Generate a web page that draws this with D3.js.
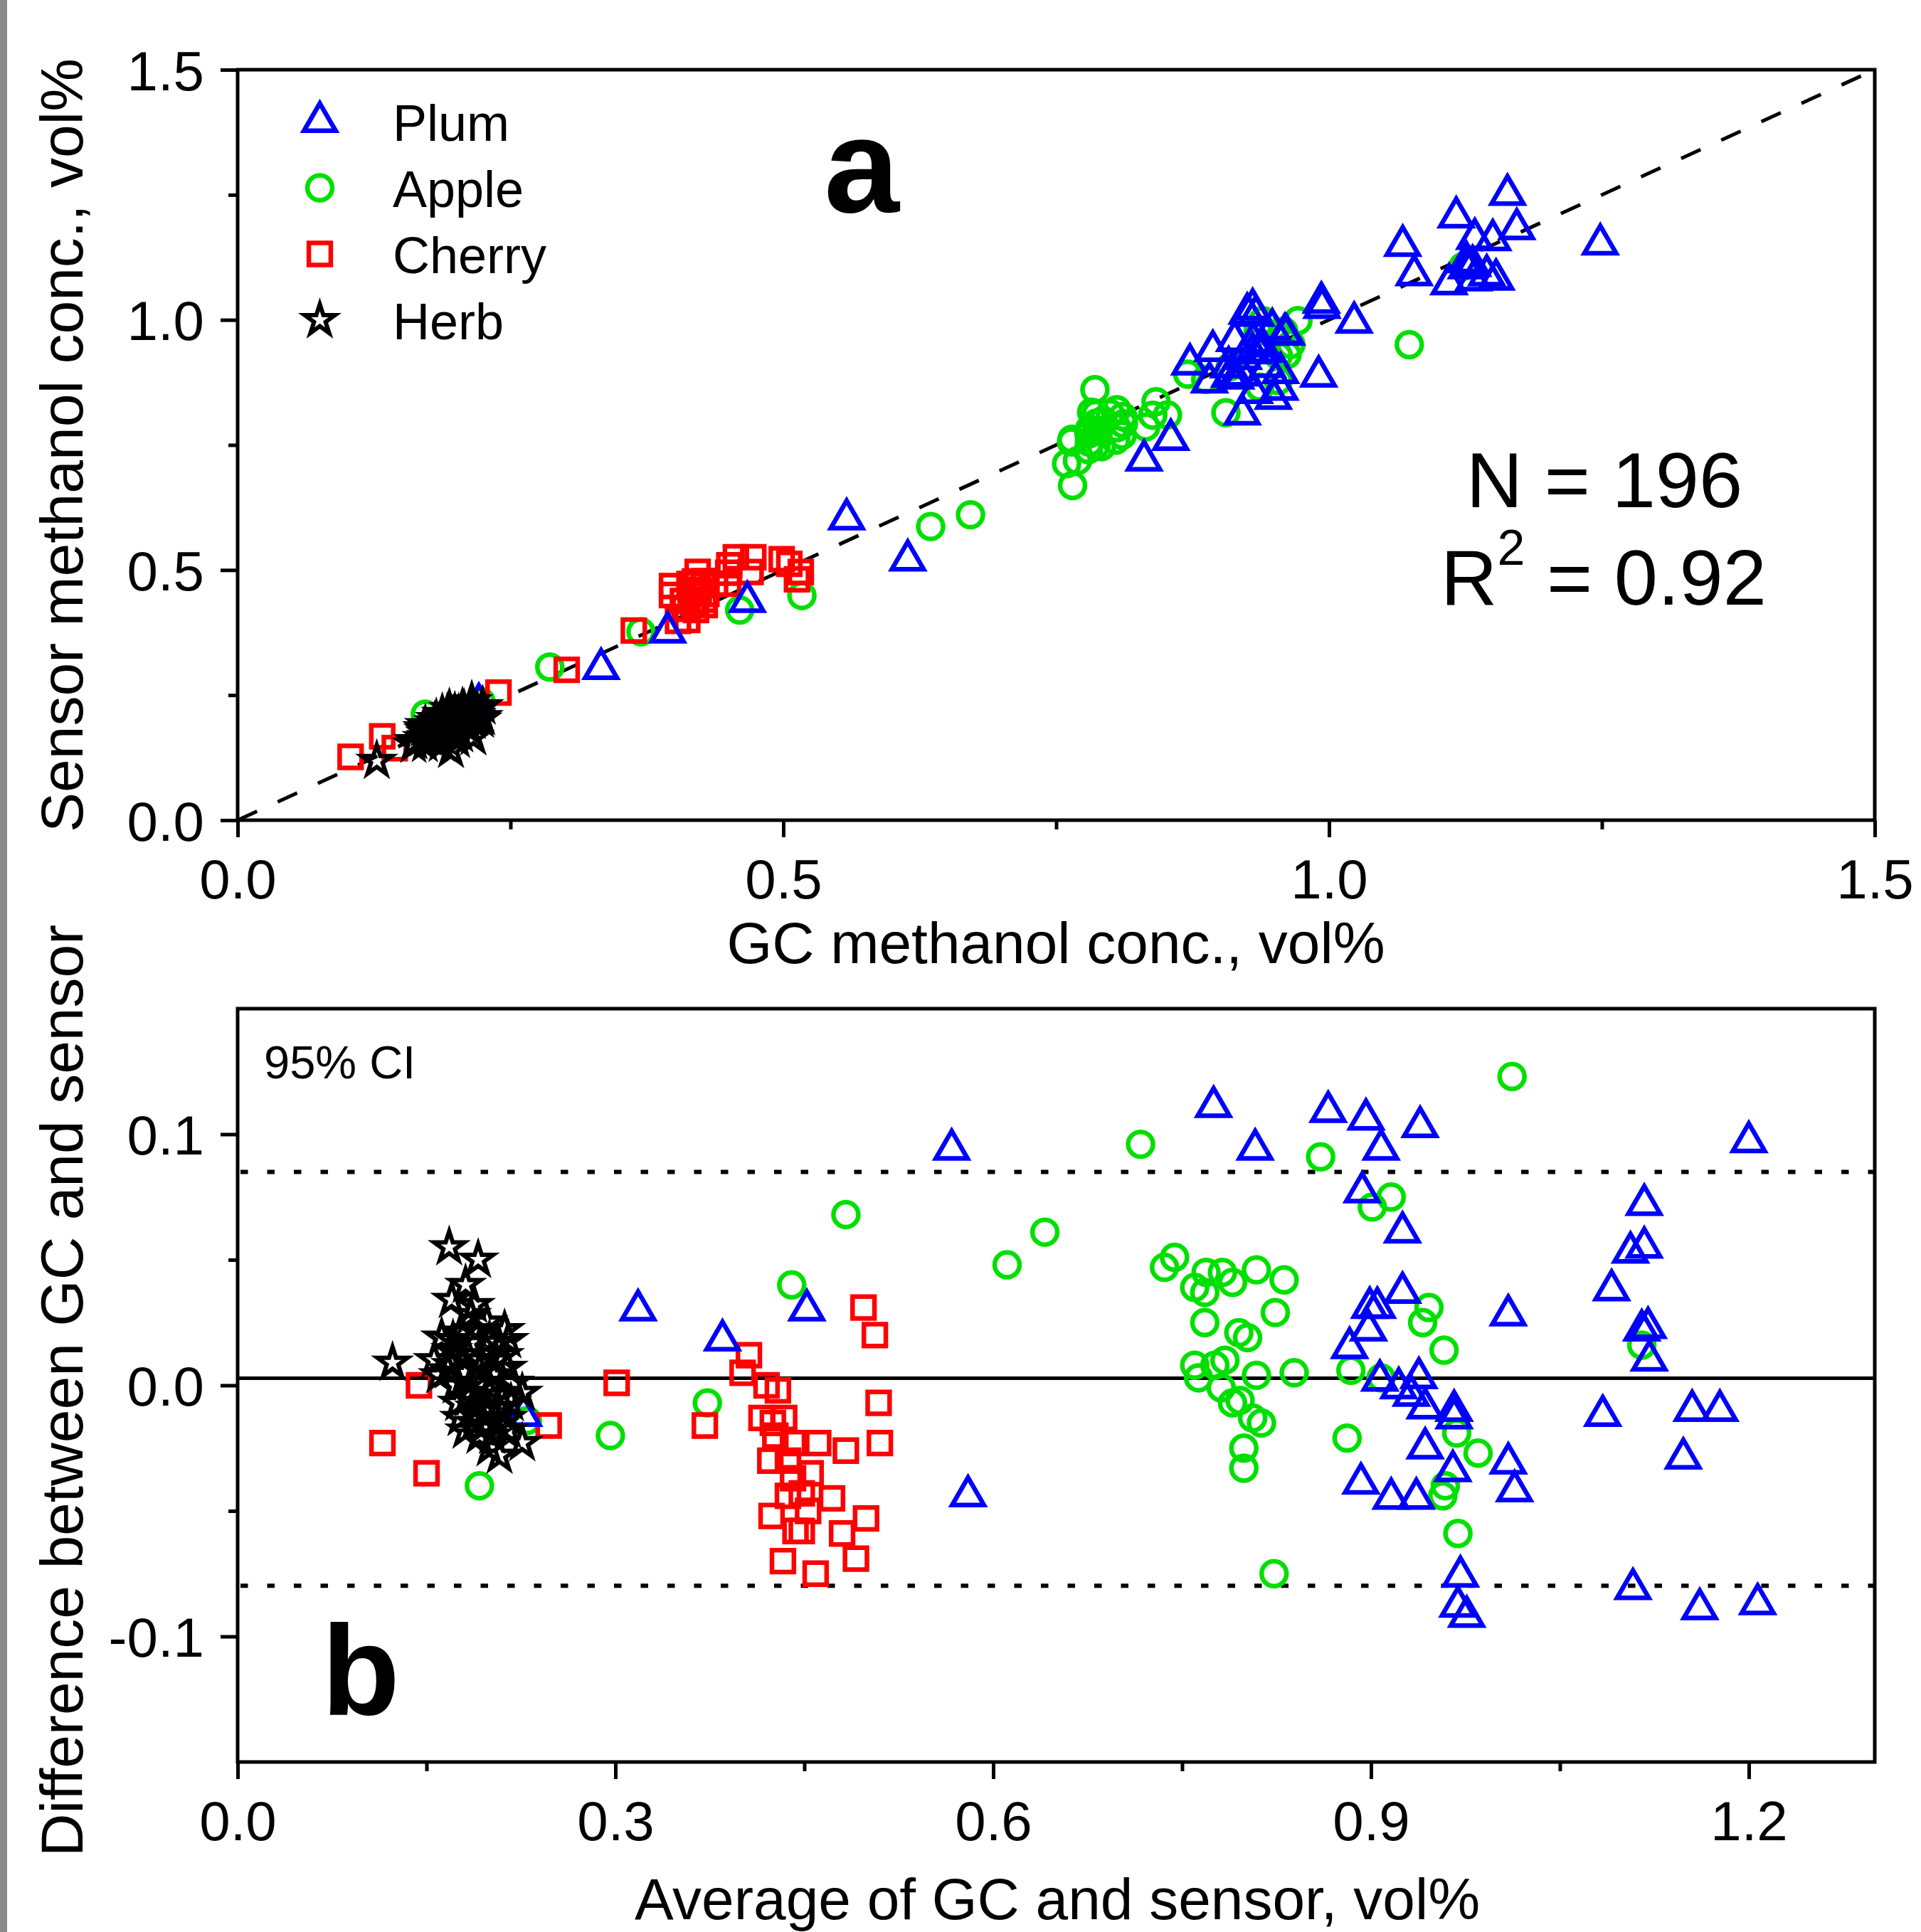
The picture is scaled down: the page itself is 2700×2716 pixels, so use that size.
<!DOCTYPE html>
<html>
<head>
<meta charset="utf-8">
<script src="https://cdn.jsdelivr.net/npm/d3@7"></script>
<style>
  body { margin: 0; background: #fff; }
  text { font-family: "Liberation Sans", Arial, sans-serif; fill: #000; }
</style>
</head>
<body>
<svg width="2700" height="2716"></svg>
<script>
// Bland-Altman values: average of GC and sensor, and GC - sensor
var plumAvg = [0.227, 0.318, 0.385, 0.452, 0.567, 0.580, 0.775, 0.808, 0.866, 0.896, 0.939, 0.908, 0.893, 0.925, 0.925,
    0.899, 0.905, 0.898, 0.883, 1.009, 0.907, 0.922, 0.938, 0.932, 0.943, 0.966, 0.966, 0.943, 0.965, 1.009, 1.014,
    0.916, 0.936, 0.892, 0.971, 0.969, 0.976, 1.200, 1.117, 1.106, 1.117, 1.091, 1.115, 1.120, 1.121, 1.084, 1.155,
    1.177, 1.148, 1.108, 1.161, 1.207];
var plumDiff = [-0.012, 0.030, 0.018, 0.030, 0.094, -0.044, 0.111, 0.094, 0.109, 0.106, 0.103, 0.094, 0.077, 0.061, 0.037,
    0.031, 0.031, 0.022, 0.015, 0.028, 0.002, -0.001, 0.003, -0.004, -0.009, -0.010, -0.013, -0.025, -0.034, -0.031, -0.042,
    -0.045, -0.045, -0.039, -0.076, -0.088, -0.092, 0.097, 0.072, 0.053, 0.055, 0.038, 0.022, 0.023, 0.010, -0.012, -0.010,
    -0.010, -0.029, -0.081, -0.089, -0.087];

var appleAvg = [0.192, 0.230, 0.296, 0.373, 0.440, 0.483, 0.611, 0.641, 0.717, 0.736, 0.744, 0.760, 0.769, 0.782, 0.768,
    0.790, 0.809, 0.831, 0.824, 0.768, 0.795, 0.802, 0.760, 0.776, 0.784, 0.763, 0.809, 0.839, 0.781, 0.790, 0.796,
    0.806, 0.813, 0.799, 0.799, 0.860, 0.823, 1.012, 0.916, 0.901, 0.946, 0.941, 0.958, 0.884, 0.908, 0.881, 0.968,
    0.985, 0.959, 0.957, 0.969, 1.115];
var appleDiff = [-0.040, -0.014, -0.020, -0.007, 0.040, 0.068, 0.048, 0.061, 0.096, 0.047, 0.051, 0.039, 0.045, 0.045, 0.037,
    0.041, 0.046, 0.042, 0.029, 0.025, 0.021, 0.019, 0.008, 0.008, 0.010, 0.003, 0.004, 0.005, -0.001, -0.007, -0.006,
    -0.013, -0.015, -0.025, -0.033, 0.091, -0.075, 0.123, 0.075, 0.071, 0.031, 0.025, 0.014, 0.006, 0.003, -0.021, -0.019,
    -0.027, -0.040, -0.044, -0.059, 0.016];

var cherryAvg = [0.144, 0.115, 0.150, 0.247, 0.301, 0.371, 0.406, 0.401, 0.420, 0.429, 0.416, 0.425, 0.434, 0.441, 0.461,
    0.483, 0.423, 0.437, 0.441, 0.437, 0.448, 0.472, 0.453, 0.424, 0.443, 0.448, 0.480, 0.499, 0.491, 0.433, 0.459,
    0.497, 0.506, 0.509, 0.510, 0.427, 0.455];
var cherryDiff = [0.000, -0.023, -0.035, -0.016, 0.001, -0.016, 0.012, 0.005, 0.000, -0.002, -0.013, -0.015, -0.013, -0.023, -0.023,
    -0.026, -0.030, -0.030, -0.037, -0.044, -0.043, -0.045, -0.050, -0.052, -0.058, -0.058, -0.059, -0.053, -0.069, -0.070, -0.075,
    0.031, 0.020, -0.007, -0.023, -0.020, -0.035];

var herbAvg = [0.168, 0.191, 0.181, 0.170, 0.185, 0.198, 0.212, 0.171, 0.185, 0.207, 0.156, 0.193, 0.214, 0.167, 0.181,
    0.123, 0.173, 0.192, 0.209, 0.226, 0.189, 0.177, 0.214, 0.181, 0.226, 0.208, 0.215, 0.162, 0.200, 0.179, 0.203,
    0.160, 0.200, 0.183, 0.207, 0.196, 0.217, 0.170, 0.188, 0.205, 0.175, 0.202, 0.211, 0.192, 0.185, 0.198, 0.188,
    0.207, 0.219, 0.170, 0.200, 0.192, 0.177, 0.215, 0.188];
var herbDiff = [0.055, 0.050, 0.040, 0.034, 0.028, 0.025, 0.022, 0.018, 0.017, 0.017, 0.010, 0.010, 0.007, 0.006, 0.005,
    0.009, 0.000, 0.000, -0.004, -0.003, -0.009, -0.013, -0.013, -0.018, -0.023, -0.028, -0.018, 0.019, 0.018, 0.012, 0.004,
    0.004, -0.003, -0.005, -0.009, -0.016, -0.007, 0.008, 0.022, 0.010, -0.007, -0.020, 0.012, 0.006, 0.001, -0.009, -0.015,
    -0.016, 0.001, 0.014, -0.025, -0.020, 0.021, 0.018, 0.032];

// mean difference and 95% limits
var meanDiff = 0.0028;
var ciUpper = 0.0850;
var ciLower = -0.0798;

var topXTicks = [0, 0.5, 1.0, 1.5], topXMinor = [0.25, 0.75, 1.25];
var topYTicks = [0, 0.5, 1.0, 1.5], topYMinor = [0.25, 0.75, 1.25];
var botXTicks = [0, 0.3, 0.6, 0.9, 1.2], botXMinor = [0.15, 0.45, 0.75, 1.05];
var botYTicks = [-0.1, 0, 0.1], botYMinor = [-0.05, 0.05];

var series = [
    {name: "Plum", color: "#0000ff", type: d3.symbolTriangle, size: 860, width: 6.5, avg: plumAvg, diff: plumDiff},
    {name: "Apple", color: "#00e000", type: d3.symbolCircle, size: 960, width: 6.5, avg: appleAvg, diff: appleDiff},
    {name: "Cherry", color: "#ff0000", type: d3.symbolSquare, size: 950, width: 6.5, avg: cherryAvg, diff: cherryDiff},
    {name: "Herb", color: "#000000", type: d3.symbolStar, size: 560, width: 6, avg: herbAvg, diff: herbDiff}
];
var drawOrder = ["Apple", "Cherry", "Plum", "Herb"];

series.forEach(function(s) {
    s.rows = s.avg.map(function(a, i) {
        var d = s.diff[i];
        return {avg: a, diff: d, gc: a + d / 2, sensor: a - d / 2};
    });
    s.path = d3.symbol().type(s.type).size(s.size)();
});

var svg = d3.select("svg");

svg.append("rect").attr("x", 0).attr("y", 0).attr("width", 10).attr("height", 2716).attr("fill", "#8a8a8a");

var xTop = d3.scaleLinear().domain([0, 1.5]).range([334, 2635]);
var yTop = d3.scaleLinear().domain([0, 1.5]).range([1153, 98]);
var xBot = d3.scaleLinear().domain([0, 1.3]).range([334, 2635]);
var yBot = d3.scaleLinear().domain([-0.15, 0.15]).range([2477, 1418]);

function fmt(d) { return d.toFixed(1); }

function drawAxes(x, y, xt, xm, yt, ym) {
    var x0 = x.range()[0], x1 = x.range()[1], y0 = y.range()[0], y1 = y.range()[1];

    var gx = svg.append("g").attr("transform", "translate(0," + y0 + ")");
    gx.call(d3.axisBottom(x).tickValues(xt).tickFormat(fmt).tickSize(24).tickSizeOuter(0));
    gx.append("g").call(d3.axisBottom(x).tickValues(xm).tickFormat("").tickSize(13).tickSizeOuter(0));

    var gy = svg.append("g").attr("transform", "translate(" + x0 + ",0)");
    gy.call(d3.axisLeft(y).tickValues(yt).tickFormat(fmt).tickSize(24).tickSizeOuter(0));
    gy.append("g").call(d3.axisLeft(y).tickValues(ym).tickFormat("").tickSize(13).tickSizeOuter(0));

    svg.selectAll(".domain").remove();
    gx.selectAll("line").attr("stroke", "#000").attr("stroke-width", 5);
    gy.selectAll("line").attr("stroke", "#000").attr("stroke-width", 5);
    gx.selectAll("text").attr("y", 110).attr("dy", 0).attr("font-size", 78)
        .style("font-family", "'Liberation Sans', Arial, sans-serif");
    gy.selectAll("text").attr("x", -47).attr("dy", "0.36em").attr("font-size", 78)
        .style("font-family", "'Liberation Sans', Arial, sans-serif");

    svg.append("rect")
        .attr("x", x0).attr("y", y1)
        .attr("width", x1 - x0).attr("height", y0 - y1)
        .attr("fill", "none").attr("stroke", "#000").attr("stroke-width", 5);
}

function drawPoints(x, y, xKey, yKey) {
    drawOrder.forEach(function(name) {
        var s = series.filter(function(d) { return d.name === name; })[0];
        svg.append("g")
            .selectAll("path")
            .data(s.rows)
            .enter().append("path")
            .attr("d", s.path)
            .attr("transform", function(d) { return "translate(" + x(d[xKey]) + "," + y(d[yKey]) + ")"; })
            .attr("fill", "none")
            .attr("stroke", s.color)
            .attr("stroke-width", s.width)
            .attr("stroke-linejoin", "miter");
    });
}

// panel a
svg.append("line")
    .attr("x1", xTop(0)).attr("y1", yTop(0))
    .attr("x2", xTop(1.5)).attr("y2", yTop(1.5))
    .attr("stroke", "#000").attr("stroke-width", 5)
    .attr("stroke-dasharray", "30,32");

drawAxes(xTop, yTop, topXTicks, topXMinor, topYTicks, topYMinor);
drawPoints(xTop, yTop, "gc", "sensor");

var legend = svg.append("g");
series.forEach(function(s, i) {
    var ly = 171 + i * 93;
    legend.append("path")
        .attr("d", s.path)
        .attr("transform", "translate(449.5," + ly + ")")
        .attr("fill", "none").attr("stroke", s.color)
        .attr("stroke-width", s.width);
    legend.append("text")
        .attr("x", 552).attr("y", ly + 27)
        .attr("font-size", 72)
        .text(s.name);
});

svg.append("text").attr("x", 1211).attr("y", 298)
    .attr("text-anchor", "middle").attr("font-size", 190).attr("font-weight", "bold").text("a");

svg.append("text").attr("x", 2255).attr("y", 713)
    .attr("text-anchor", "middle").attr("font-size", 110).text("N = 196");

var r2 = svg.append("text").attr("x", 2254).attr("y", 850)
    .attr("text-anchor", "middle").attr("font-size", 110);
r2.append("tspan").text("R");
r2.append("tspan").attr("font-size", 70).attr("dy", -56).text("2");
r2.append("tspan").attr("dy", 56).text(" = 0.92");

svg.append("text").attr("x", 1484).attr("y", 1354)
    .attr("text-anchor", "middle").attr("font-size", 82).text("GC methanol conc., vol%");

svg.append("text").attr("transform", "translate(116,626) rotate(-90)")
    .attr("text-anchor", "middle").attr("font-size", 84).text("Sensor methanol conc., vol%");

// panel b
svg.append("line")
    .attr("x1", xBot(0)).attr("x2", xBot(1.3))
    .attr("y1", yBot(meanDiff)).attr("y2", yBot(meanDiff))
    .attr("stroke", "#000").attr("stroke-width", 5);

[ciUpper, ciLower].forEach(function(v) {
    svg.append("line")
        .attr("x1", xBot(0) + 4).attr("x2", xBot(1.3))
        .attr("y1", yBot(v)).attr("y2", yBot(v))
        .attr("stroke", "#000").attr("stroke-width", 6)
        .attr("stroke-dasharray", "10.5,27");
});

drawAxes(xBot, yBot, botXTicks, botXMinor, botYTicks, botYMinor);
drawPoints(xBot, yBot, "avg", "diff");

svg.append("text").attr("x", 371).attr("y", 1516)
    .attr("font-size", 65).text("95% CI");

svg.append("text").attr("x", 507).attr("y", 2411)
    .attr("text-anchor", "middle").attr("font-size", 180).attr("font-weight", "bold").text("b");

svg.append("text").attr("x", 1486).attr("y", 2698)
    .attr("text-anchor", "middle").attr("font-size", 82).text("Average of GC and sensor, vol%");

svg.append("text").attr("transform", "translate(116,1955) rotate(-90)")
    .attr("text-anchor", "middle").attr("font-size", 84).text("Difference between GC and sensor");
</script>
</body>
</html>
